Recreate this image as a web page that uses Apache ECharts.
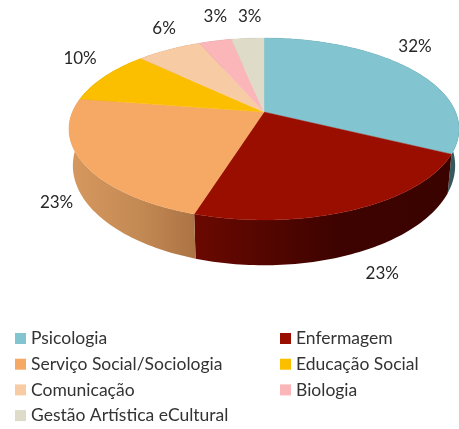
<!DOCTYPE html>
<html><head><meta charset="utf-8">
<style>html,body{margin:0;padding:0;background:#fff}#c{width:459px;height:429px}</style>
<script src="https://cdn.jsdelivr.net/npm/echarts@6/dist/echarts.min.js"></script>
</head><body><div id="c"></div>
<script>
const categories = ['Psicologia','Enfermagem','Serviço Social/Sociologia','Educação Social','Comunicação','Biologia','Gestão Artística eCultural'];
const counts = [10,7,7,3,2,1,1];
const colors = ['#82C4CF','#9A0E00','#F5A965','#FCBF00','#F7CBA4','#FBB6BA','#DEDCC8'];
const wallColors = [['#4A7278','#4A7278','#35565A'],['#6A0900','#3E0300','#3A0300'],['#D6985E','#C48A54','#AC7344'],['#B58A00','#B58A00','#B58A00'],['#B08F70','#B08F70','#B08F70'],['#B08080','#B08080','#B08080'],['#9E9C8C','#9E9C8C','#9E9C8C']];
const labelNudge = [[3,-23],[27,64],[-27,39],[-25,-18],[-5,-21],[0,-24],[2,-22]];
const leftColumn = [0,2,4,6], rightColumn = [1,3,5];

// pie projection: unit disc viewed in perspective
const cx = 264, cy = 112, R = 191.6, A = 87.8, k = 0.187;
function rim(t){
  const u = Math.sin(t), v = -Math.cos(t), d = 1 - k*v;
  return [cx + R*u/d, cy + A*v/d];
}
function base(p){
  return [cx + (p[0]-cx)*0.98, p[1] + 35 + 0.095*(p[1]-cy)];
}
const total = counts.reduce((a,b)=>a+b,0);
let acc = 0;
const series = categories.map((name,i)=>{
  const start = acc; acc += counts[i];
  return {
    type:'custom', name, coordinateSystem:'none', silent:true,
    itemStyle:{color:colors[i]},
    data:[[start, acc]],
    renderItem(params, api){
      const t0 = api.value(0)/total*2*Math.PI, t1 = api.value(1)/total*2*Math.PI;
      const arc = [];
      const n = Math.max(6, Math.ceil((t1-t0)/0.02));
      for(let j=0;j<=n;j++) arc.push(rim(t0+(t1-t0)*j/n));
      const bottom = arc.map(base).reverse();
      const top = [[cx,cy]].concat(arc);
      const mid = rim((t0+t1)/2);
      const pct = Math.round((api.value(1)-api.value(0))/total*100)+'%';
      return {type:'group',children:[
        {type:'polygon',z2:1,shape:{points:arc.concat(bottom)},
         style:{fill:{type:'linear',x:0,y:0,x2:1,y2:0,colorStops:[{offset:0,color:wallColors[i][0]},{offset:0.55,color:wallColors[i][1]},{offset:1,color:wallColors[i][2]}]}}},
        {type:'polygon',z2:5,shape:{points:top},style:{fill:colors[i],stroke:colors[i],lineWidth:0.4}},
        {type:'text',z2:9,style:{x:mid[0]+labelNudge[i][0],y:mid[1]+labelNudge[i][1],text:pct,
          align:'center',verticalAlign:'middle',font:'17px Lato',fill:'#262626'}}
      ]};
    }
  };
});
const legendBase = {orient:'vertical',top:329,padding:0,itemWidth:11,itemHeight:11,itemGap:6.7,icon:'rect',selectedMode:false,
  textStyle:{fontFamily:'Lato',fontSize:17.5,color:'#333333',lineHeight:19}};
const chart = echarts.init(document.getElementById('c'),null,{renderer:'canvas'});
chart.setOption({animation:false,backgroundColor:'#fff',
  legend:[
    Object.assign({},legendBase,{left:15,data:leftColumn.map(i=>categories[i])}),
    Object.assign({},legendBase,{left:280,data:rightColumn.map(i=>categories[i])})
  ],
  series});
</script></body></html>
